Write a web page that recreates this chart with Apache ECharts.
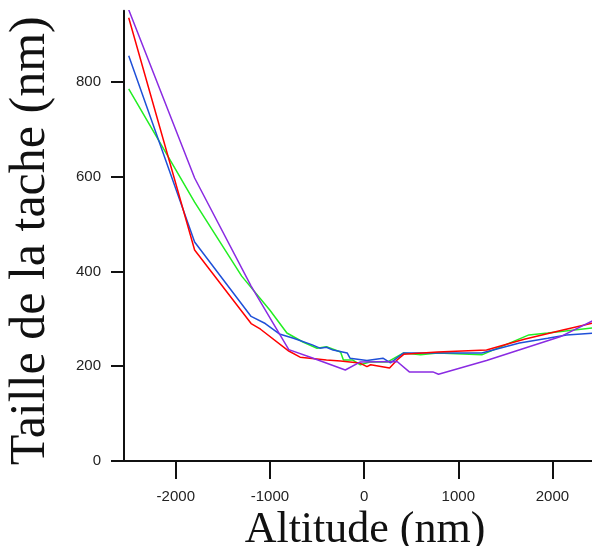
<!DOCTYPE html>
<html>
<head>
<meta charset="utf-8">
<script src="https://cdn.jsdelivr.net/npm/echarts@6/dist/echarts.min.js"></script>
<style>
html,body{margin:0;padding:0;background:#fff;}
#chart{width:592px;height:546px;}
</style>
</head>
<body>
<div id="chart"></div>
<script>
// Data
const xTicks = [-2000, -1000, 0, 1000, 2000];
const yTicks = [0, 200, 400, 600, 800];

const redX = [-2500, -1800, -1200, -1100, -800, -680, -400, -250, -50, 30, 70, 270, 350, 420, 780, 1300, 1700, 2100, 2450];
const redY = [935, 445, 290, 278, 232, 219, 213, 211, 207, 199, 203, 196, 213, 225, 230, 234, 257, 276, 292];

const blueX = [-2500, -1800, -1200, -1050, -900, -750, -550, -470, -400, -330, -180, -150, 30, 200, 280, 420, 1250, 1650, 1950, 2150, 2450];
const blueY = [855, 462, 305, 290, 268, 259, 245, 238, 240, 234, 228, 217, 212, 217, 207, 228, 228, 249, 259, 266, 270];

const greenX = [-2500, -1800, -1300, -1000, -820, -650, -500, -400, -250, -220, -120, -40, 60, 250, 420, 600, 780, 1250, 1750, 1950, 2450];
const greenY = [785, 546, 390, 318, 270, 251, 238, 241, 230, 213, 213, 203, 209, 209, 228, 224, 228, 224, 266, 270, 281];

const purpleX = [-2500, -1800, -1200, -800, -570, -200, -40, 350, 480, 730, 790, 1300, 2080, 2450];
const purpleY = [952, 597, 369, 235, 219, 192, 209, 210, 188, 188, 183, 212, 262, 298];

function pairs(xs, ys){ return xs.map((x,i)=>[x, ys[i]]); }

const chart = echarts.init(document.getElementById('chart'), null, {renderer:'canvas'});
const mk = (name, xs, ys, color) => ({
  name, type:'line', data: pairs(xs, ys), showSymbol:false, symbol:'none',
  lineStyle:{color, width:1.5}, itemStyle:{color}, animation:false, clip:true
});
chart.setOption({
  animation:false,
  backgroundColor:'#ffffff',
  grid:{left:124, right:0, top:10.7, bottom:85, containLabel:false, outerBoundsMode:'none'},
  xAxis:{
    type:'value', min:-2550, max:2420,
    name:'Altitude (nm)', nameLocation:'middle', nameGap:37,
    nameTextStyle:{fontFamily:'Liberation Serif', fontSize:44, color:'#111', padding:[0,0,0,14]},
    axisLine:{show:true, onZero:false, lineStyle:{color:'#111', width:2}},
    axisTick:{show:true, length:18, lineStyle:{color:'#111', width:2}, customValues:xTicks},
    axisLabel:{margin:28, fontFamily:'Liberation Sans', fontSize:15, color:'#222', customValues:xTicks,
      formatter:(v)=>String(v)},
    splitLine:{show:false}
  },
  yAxis:{
    type:'value', min:0, max:950,
    name:'Taille de la tache (nm)', nameLocation:'middle', nameGap:68, nameRotate:90,
    nameTextStyle:{fontFamily:'Liberation Serif', fontSize:50, color:'#111', padding:[0,10,0,0]},
    axisLine:{show:true, onZero:false, lineStyle:{color:'#111', width:2}},
    axisTick:{show:true, length:13, lineStyle:{color:'#111', width:2}, customValues:yTicks},
    axisLabel:{margin:23, fontFamily:'Liberation Sans', fontSize:15, color:'#222', customValues:yTicks,
      formatter:(v)=>String(v)},
    splitLine:{show:false}
  },
  series:[
    mk('green', greenX, greenY, '#22ee22'),
    mk('blue', blueX, blueY, '#1f50d8'),
    mk('red', redX, redY, '#ff0000'),
    mk('purple', purpleX, purpleY, '#8a2be2')
  ]
});
</script>
</body>
</html>
